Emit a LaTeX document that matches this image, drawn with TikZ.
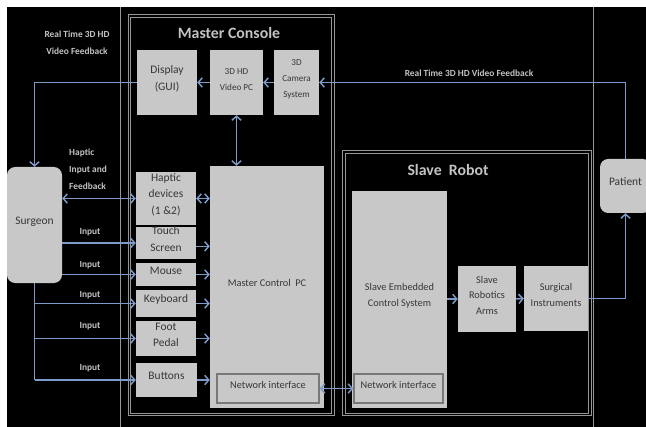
\documentclass[tikz,border=0pt]{standalone}
\usepackage{fontspec}
\setmainfont{Carlito}
\usetikzlibrary{arrows.meta,fit}
\definecolor{boxgray}{RGB}{200,200,200}
\definecolor{txtgray}{RGB}{55,55,55}
\definecolor{arrowblue}{RGB}{125,155,200}
\definecolor{framegray}{RGB}{150,150,150}
\definecolor{labelgray}{RGB}{195,195,195}
\definecolor{nigray}{RGB}{120,120,120}
\tikzset{
  blk/.style={fill=boxgray, draw=none, inner sep=0pt, text=txtgray, align=center,
    font=\fontsize{9.8}{14.2}\selectfont},
  midblk/.style={blk, font=\fontsize{8.8}{13.2}\selectfont},
  smallblk/.style={blk, font=\fontsize{7.8}{13.5}\selectfont},
  netif/.style={midblk, draw=nigray, line width=1.3pt},
  rndblk/.style={blk, rounded corners=7pt},
  conn/.style={draw=arrowblue, line width=1.25pt},
  arr/.style={conn, -{Straight Barb[length=3.5pt,width=8pt]}},
  darr/.style={conn, {Straight Barb[length=3.5pt,width=8pt]}-{Straight Barb[length=3.5pt,width=8pt]}},
  framel/.style={draw=framegray, line width=0.7pt},
  groupbox/.style={draw=framegray, line width=0.5pt, double=black, double distance=1.6pt},
  titletext/.style={text=labelgray, font=\bfseries\fontsize{13.5}{15}\selectfont},
  lbl/.style={text=labelgray, font=\bfseries\fontsize{8}{14.5}\selectfont, inner sep=0pt},
}
\begin{document}
\begin{tikzpicture}[x=0.03cm,y=-0.03cm]
\useasboundingbox (0,0) rectangle (646,427);
\fill[white] (0,0) rectangle (646,427);
\fill[black] (7,7) rectangle (646,427);

% frames
\draw[framel] (120,7) -- (120,427);
\draw[framel] (593,7) -- (593,427);
\draw[groupbox] (129.5,16) rectangle (333,414.5);
\draw[groupbox] (344,152) rectangle (590,414.5);
\node[titletext] (mctitle) at (229,33) {Master Console};
\node[titletext] (srtitle) at (448,170) {Slave\ \ Robot};

% master console blocks
\node[blk, fit={(137,50) (197,115)}] (display) {Display\\(GUI)};
\node[smallblk, fit={(210,50) (263,115)}] (videopc) {3D HD\\Video PC};
\node[smallblk, fit={(274,50) (319,115)}] (camera) {3D\\Camera\\System};
\node[blk, fit={(136,172) (196,225)}] (haptic) {Haptic\\devices\\(1 \&2)};
\node[blk, fit={(136,227) (196,259)}] (touch) {Touch\\Screen};
\node[blk, fit={(136,263) (196,286)}] (mouse) {Mouse};
\node[blk, fit={(136,290) (196,317)}] (keyboard) {Keyboard};
\node[blk, fit={(136,321) (196,356)}] (foot) {Foot\\Pedal};
\node[blk, fit={(136,363) (197,397)}] (buttons) {Buttons};
\node[midblk, fit={(210,166) (324,408)}] (mcpc) {Master Control\ \ PC};
\node[netif, fit={(217,374) (319,403)}] (mni) {Network interface};

% slave robot blocks
\node[midblk, fit={(352,191) (447,408)}] (sec) {Slave Embedded\\Control System};
\node[netif, fit={(354,374) (443,403)}] (sni) {Network interface};
\node[midblk, fit={(458,266) (516,332)}] (arms) {Slave\\Robotics\\Arms};
\node[midblk, fit={(524,266) (588,331)}] (surg) {Surgical\\Instruments};

% outside
\node[rndblk, fit={(7,167) (62,283)}] (surgeon) {Surgeon};
\node[rndblk, fit={(600,159) (651,213)}] (patient) {Patient};

% labels
\node[lbl, align=center] (lblvl) at (77,43) {Real Time 3D HD\\Video Feedback};
\node[lbl] (lblvr) at (469,73) {Real Time 3D HD Video Feedback};
\node[lbl, align=left, anchor=west] (lblh) at (69,169) {Haptic\\Input and\\Feedback};
\node[lbl] (lbl1) at (90,232) {Input};
\node[lbl] (lbl2) at (90,265) {Input};
\node[lbl] (lbl3) at (90,295) {Input};
\node[lbl] (lbl4) at (90,326) {Input};
\node[lbl] (lbl5) at (90,368) {Input};

% video path
\draw[arr] (patient.north) |- (camera.east);
\draw[arr] (camera.west) -- (videopc.east);
\draw[arr] (videopc.west) -- (display.east);
\draw[arr] (display.west) -| (surgeon.north);
\draw[darr] (videopc.south) -- (videopc.south |- mcpc.north);

% surgeon inputs
\draw[darr] (surgeon.east |- haptic.west) -- (haptic.west);
\draw[arr] (surgeon.east |- touch.west) -- (touch.west);
\draw[arr] (surgeon.east |- mouse.west) -- (mouse.west);
\draw[conn] (surgeon.south) -- (surgeon.south |- buttons.west);
\draw[arr] (surgeon.south |- keyboard.west) -- (keyboard.west);
\draw[arr] (surgeon.south |- foot.west) -- (foot.west);
\draw[arr] (surgeon.south |- buttons.west) -- (buttons.west);

% devices to master PC
\draw[darr] (haptic.east) -- (haptic.east -| mcpc.west);
\draw[arr] ([yshift=-0.1cm]touch.east) -- ([yshift=-0.1cm]touch.east -| mcpc.west);
\draw[arr] (mouse.east) -- (mouse.east -| mcpc.west);
\draw[arr] (keyboard.east) -- (keyboard.east -| mcpc.west);
\draw[arr] (foot.east) -- (foot.east -| mcpc.west);
\draw[arr] (buttons.east) -- (buttons.east -| mcpc.west);

% network and slave
\draw[darr] (mni.east) -- (sni.west);
\draw[arr] (sec.east |- arms.west) -- (arms.west);
\draw[arr] (arms.east) -- (surg.west);
\draw[arr] (surg.east) -| (patient.south);
\end{tikzpicture}
\end{document}
